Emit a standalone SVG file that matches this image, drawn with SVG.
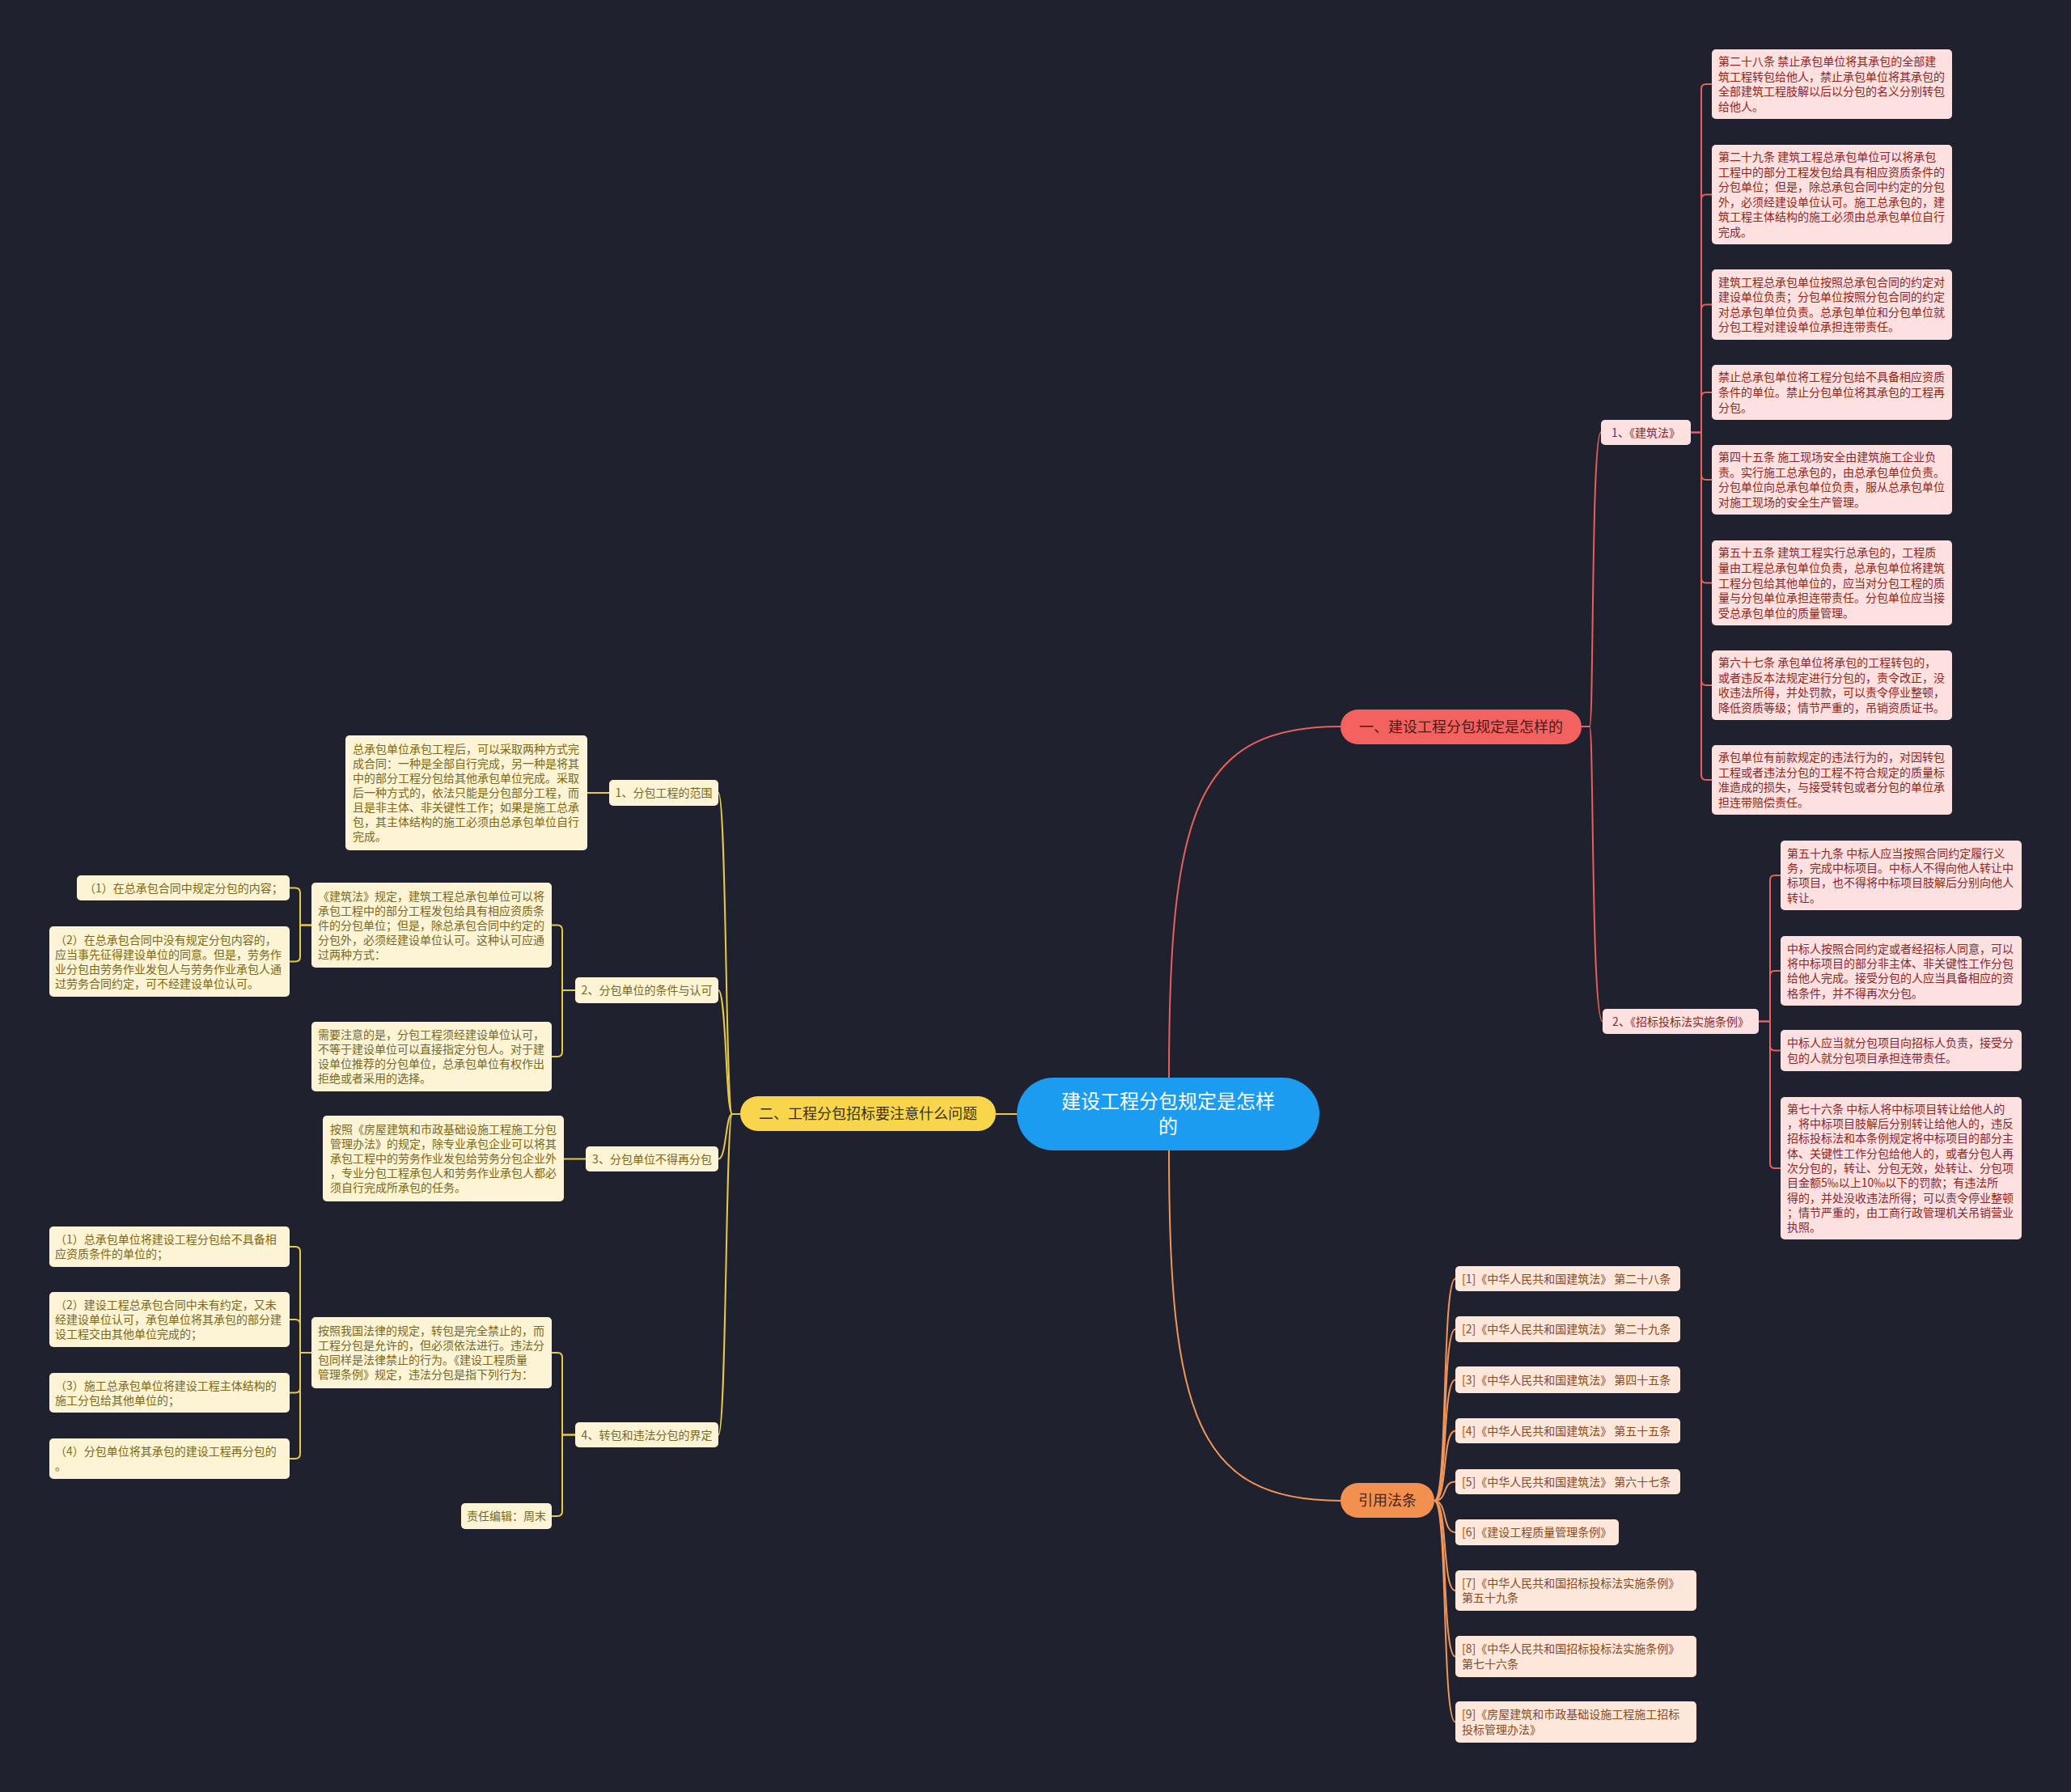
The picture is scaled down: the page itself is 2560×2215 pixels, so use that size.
<svg xmlns="http://www.w3.org/2000/svg" width="2560" height="2215" viewBox="0 0 2560 2215">
<style>
text{font-family:"Noto Sans CJK SC","Noto Sans",sans-serif}
.pk{fill:#fde1e1}
.pt{fill:#8f2626;font-size:14px}
.cr{fill:#fdf4d5}
.ct{fill:#7b6820;font-size:14px}
.pc{fill:#fde7da}
.pct{fill:#8a4a22;font-size:14px}
.br{font-size:18px;text-anchor:middle}
.mid{text-anchor:middle}
.lr{fill:none;stroke:#e8605d;stroke-width:2}
.ly{fill:none;stroke:#e6c94b;stroke-width:2}
.lo{fill:none;stroke:#f0965a;stroke-width:2}
</style>
<rect x="0" y="0" width="2560" height="2215" fill="#1f222e"/>

<g id="connectors">
<path class="lr" stroke-width="3" d="M1445 1332 C1445 1000 1480 898 1657 898"/>
<path class="lr" stroke-width="2.5" d="M1955 898 H1965 C1970 898 1967 534.5 1979 534.5"/>
<path class="lr" stroke-width="2.5" d="M1955 898 H1965 C1970 898 1967 1262.5 1981 1262.5"/>
<path class="lr" d="M2090 534.5 H2103 V110 Q2103 104 2109 104 H2116"/>
<path class="lr" d="M2103 246.5 Q2103 240.5 2109 240.5 H2116"/>
<path class="lr" d="M2103 382.5 Q2103 376.5 2109 376.5 H2116"/>
<path class="lr" d="M2103 491 Q2103 485 2109 485 H2116"/>
<path class="lr" d="M2090 534.5 H2103 V958 Q2103 964 2109 964 H2116"/>
<path class="lr" d="M2103 587 Q2103 593 2109 593 H2116"/>
<path class="lr" d="M2103 714.5 Q2103 720.5 2109 720.5 H2116"/>
<path class="lr" d="M2103 841 Q2103 847 2109 847 H2116"/>
<path class="lr" d="M2174 1262.5 H2188 V1088 Q2188 1082 2194 1082 H2201"/>
<path class="lr" d="M2188 1206 Q2188 1200 2194 1200 H2201"/>
<path class="lr" d="M2174 1262.5 H2188 V1438 Q2188 1444 2194 1444 H2201"/>
<path class="lr" d="M2188 1292.5 Q2188 1298.5 2194 1298.5 H2201"/>

<path class="ly" stroke-width="3" d="M1257 1377 H1231"/>
<path class="ly" stroke-width="2.5" d="M915 1377 H905 C897 1377 898 980 888 980"/>
<path class="ly" stroke-width="2.5" d="M915 1377 H905 C897 1377 898 1224 888 1224"/>
<path class="ly" stroke-width="2.5" d="M915 1377 H905 C897 1377 898 1432.5 888 1432.5"/>
<path class="ly" stroke-width="2.5" d="M915 1377 H905 C897 1377 898 1773.5 888 1773.5"/>
<path class="ly" d="M753 980 H726"/>
<path class="ly" d="M711 1224 H695 V1149.5 Q695 1143.5 689 1143.5 H682"/>
<path class="ly" d="M711 1224 H695 V1300 Q695 1306 689 1306 H682"/>
<path class="ly" d="M385 1143.5 H371 V1103.5 Q371 1097.5 365 1097.5 H358"/>
<path class="ly" d="M385 1143.5 H371 V1182.5 Q371 1188.5 365 1188.5 H358"/>
<path class="ly" d="M724 1432.5 H697"/>
<path class="ly" d="M711 1773.5 H695 V1678 Q695 1672 689 1672 H682"/>
<path class="ly" d="M711 1773.5 H695 V1868 Q695 1874 689 1874 H682"/>
<path class="ly" d="M385 1672 H371 V1547 Q371 1541 365 1541 H358"/>
<path class="ly" d="M371 1637 Q371 1631 365 1631 H358"/>
<path class="ly" d="M385 1672 H371 V1797 Q371 1803 365 1803 H358"/>
<path class="ly" d="M371 1715.5 Q371 1721.5 365 1721.5 H358"/>

<path class="lo" stroke-width="3" d="M1445 1422 C1445 1750 1480 1855 1657 1855"/>
<path class="lo" d="M1773 1855 C1790 1855 1782 1580.5 1799 1580.5"/>
<path class="lo" d="M1773 1855 C1790 1855 1782 1643 1799 1643"/>
<path class="lo" d="M1773 1855 C1790 1855 1782 1705.5 1799 1705.5"/>
<path class="lo" d="M1773 1855 C1790 1855 1782 1768.5 1799 1768.5"/>
<path class="lo" d="M1773 1855 C1790 1855 1782 1831.5 1799 1831.5"/>
<path class="lo" d="M1773 1855 C1790 1855 1782 1894 1799 1894"/>
<path class="lo" d="M1773 1855 C1790 1855 1782 1966 1799 1966"/>
<path class="lo" d="M1773 1855 C1790 1855 1782 2047.5 1799 2047.5"/>
<path class="lo" d="M1773 1855 C1790 1855 1782 2128.5 1799 2128.5"/>
</g>

<g id="root">
<rect x="1257" y="1332" width="374" height="90" rx="45" fill="#1b9cf0"/>
<text class="mid" x="1444" y="1370" font-size="24" fill="#ffffff">建设工程分包规定是怎样<tspan x="1444" dy="31">的</tspan></text>
</g>

<g id="branch1">
<rect x="1657" y="877" width="298" height="43" rx="21.5" fill="#f4625f"/>
<text class="br" x="1806" y="905" fill="#4a1b1b">一、建设工程分包规定是怎样的</text>
</g>
<g id="branch2">
<rect x="915" y="1355" width="316" height="43" rx="21.5" fill="#f8d54a"/>
<text class="br" x="1073" y="1383" fill="#3a3012">二、工程分包招标要注意什么问题</text>
</g>
<g id="branch3">
<rect x="1657" y="1833" width="116" height="43" rx="21.5" fill="#f2904f"/>
<text class="br" x="1715" y="1861" fill="#4a2410">引用法条</text>
</g>

<g id="r-sub1"><rect class="pk" x="1979" y="519" width="111" height="31" rx="5"/><text class="pt mid" x="2034.5" y="539.5">1、《建筑法》</text></g>
<g id="r-sub2"><rect class="pk" x="1981" y="1247" width="193" height="31" rx="5"/><text class="pt mid" x="2077.5" y="1267.5">2、《招标投标法实施条例》</text></g>

<g id="r-leaf1"><rect class="pk" x="2116" y="61" width="297" height="86" rx="5"/><text class="pt" x="2124" y="81.1">第二十八条 禁止承包单位将其承包的全部建<tspan x="2124" dy="18.6">筑工程转包给他人，禁止承包单位将其承包的</tspan><tspan x="2124" dy="18.6">全部建筑工程肢解以后以分包的名义分别转包</tspan><tspan x="2124" dy="18.6">给他人。</tspan></text></g>
<g id="r-leaf2"><rect class="pk" x="2116" y="179" width="297" height="123" rx="5"/><text class="pt" x="2124" y="199">第二十九条 建筑工程总承包单位可以将承包<tspan x="2124" dy="18.6">工程中的部分工程发包给具有相应资质条件的</tspan><tspan x="2124" dy="18.6">分包单位；但是，除总承包合同中约定的分包</tspan><tspan x="2124" dy="18.6">外，必须经建设单位认可。施工总承包的，建</tspan><tspan x="2124" dy="18.6">筑工程主体结构的施工必须由总承包单位自行</tspan><tspan x="2124" dy="18.6">完成。</tspan></text></g>
<g id="r-leaf3"><rect class="pk" x="2116" y="333" width="297" height="87" rx="5"/><text class="pt" x="2124" y="353.6">建筑工程总承包单位按照总承包合同的约定对<tspan x="2124" dy="18.6">建设单位负责；分包单位按照分包合同的约定</tspan><tspan x="2124" dy="18.6">对总承包单位负责。总承包单位和分包单位就</tspan><tspan x="2124" dy="18.6">分包工程对建设单位承担连带责任。</tspan></text></g>
<g id="r-leaf4"><rect class="pk" x="2116" y="451" width="297" height="68" rx="5"/><text class="pt" x="2124" y="471.4">禁止总承包单位将工程分包给不具备相应资质<tspan x="2124" dy="18.6">条件的单位。禁止分包单位将其承包的工程再</tspan><tspan x="2124" dy="18.6">分包。</tspan></text></g>
<g id="r-leaf5"><rect class="pk" x="2116" y="550" width="297" height="86" rx="5"/><text class="pt" x="2124" y="570.1">第四十五条 施工现场安全由建筑施工企业负<tspan x="2124" dy="18.6">责。实行施工总承包的，由总承包单位负责。</tspan><tspan x="2124" dy="18.6">分包单位向总承包单位负责，服从总承包单位</tspan><tspan x="2124" dy="18.6">对施工现场的安全生产管理。</tspan></text></g>
<g id="r-leaf6"><rect class="pk" x="2116" y="668" width="297" height="105" rx="5"/><text class="pt" x="2124" y="688.3">第五十五条 建筑工程实行总承包的，工程质<tspan x="2124" dy="18.6">量由工程总承包单位负责，总承包单位将建筑</tspan><tspan x="2124" dy="18.6">工程分包给其他单位的，应当对分包工程的质</tspan><tspan x="2124" dy="18.6">量与分包单位承担连带责任。分包单位应当接</tspan><tspan x="2124" dy="18.6">受总承包单位的质量管理。</tspan></text></g>
<g id="r-leaf7"><rect class="pk" x="2116" y="804" width="297" height="86" rx="5"/><text class="pt" x="2124" y="824.1">第六十七条 承包单位将承包的工程转包的，<tspan x="2124" dy="18.6">或者违反本法规定进行分包的，责令改正，没</tspan><tspan x="2124" dy="18.6">收违法所得，并处罚款，可以责令停业整顿，</tspan><tspan x="2124" dy="18.6">降低资质等级；情节严重的，吊销资质证书。</tspan></text></g>
<g id="r-leaf8"><rect class="pk" x="2116" y="921" width="297" height="86" rx="5"/><text class="pt" x="2124" y="941.1">承包单位有前款规定的违法行为的，对因转包<tspan x="2124" dy="18.6">工程或者违法分包的工程不符合规定的质量标</tspan><tspan x="2124" dy="18.6">准造成的损失，与接受转包或者分包的单位承</tspan><tspan x="2124" dy="18.6">担连带赔偿责任。</tspan></text></g>

<g id="r-leaf9"><rect class="pk" x="2201" y="1039" width="298" height="86" rx="5"/><text class="pt" x="2209" y="1059.6">第五十九条 中标人应当按照合同约定履行义<tspan x="2209" dy="18.3">务，完成中标项目。中标人不得向他人转让中</tspan><tspan x="2209" dy="18.3">标项目，也不得将中标项目肢解后分别向他人</tspan><tspan x="2209" dy="18.3">转让。</tspan></text></g>
<g id="r-leaf10"><rect class="pk" x="2201" y="1157" width="298" height="86" rx="5"/><text class="pt" x="2209" y="1177.6">中标人按照合同约定或者经招标人同意，可以<tspan x="2209" dy="18.3">将中标项目的部分非主体、非关键性工作分包</tspan><tspan x="2209" dy="18.3">给他人完成。接受分包的人应当具备相应的资</tspan><tspan x="2209" dy="18.3">格条件，并不得再次分包。</tspan></text></g>
<g id="r-leaf11"><rect class="pk" x="2201" y="1273" width="298" height="51" rx="5"/><text class="pt" x="2209" y="1294.4">中标人应当就分包项目向招标人负责，接受分<tspan x="2209" dy="18.3">包的人就分包项目承担连带责任。</tspan></text></g>
<g id="r-leaf12"><rect class="pk" x="2201" y="1356" width="298" height="176" rx="5"/><text class="pt" x="2209" y="1375.8">第七十六条 中标人将中标项目转让给他人的<tspan x="2209" dy="18.3">，将中标项目肢解后分别转让给他人的，违反</tspan><tspan x="2209" dy="18.3">招标投标法和本条例规定将中标项目的部分主</tspan><tspan x="2209" dy="18.3">体、关键性工作分包给他人的，或者分包人再</tspan><tspan x="2209" dy="18.3">次分包的，转让、分包无效，处转让、分包项</tspan><tspan x="2209" dy="18.3">目金额5‰以上10‰以下的罚款；有违法所</tspan><tspan x="2209" dy="18.3">得的，并处没收违法所得；可以责令停业整顿</tspan><tspan x="2209" dy="18.3">；情节严重的，由工商行政管理机关吊销营业</tspan><tspan x="2209" dy="18.3">执照。</tspan></text></g>

<g id="l-sub1"><rect class="cr" x="753" y="964" width="135" height="32" rx="5"/><text class="ct mid" x="820.5" y="985">1、分包工程的范围</text></g>
<g id="l-sub2"><rect class="cr" x="711" y="1208" width="177" height="32" rx="5"/><text class="ct mid" x="799.5" y="1229">2、分包单位的条件与认可</text></g>
<g id="l-sub3"><rect class="cr" x="724" y="1417" width="164" height="31" rx="5"/><text class="ct mid" x="806" y="1437.5">3、分包单位不得再分包</text></g>
<g id="l-sub4"><rect class="cr" x="711" y="1758" width="177" height="31" rx="5"/><text class="ct mid" x="799.5" y="1778.5">4、转包和违法分包的界定</text></g>

<g id="l-leaf1"><rect class="cr" x="427" y="909" width="299" height="142" rx="5"/><text class="ct" x="436" y="931">总承包单位承包工程后，可以采取两种方式完<tspan x="436" dy="18">成合同：一种是全部自行完成，另一种是将其</tspan><tspan x="436" dy="18">中的部分工程分包给其他承包单位完成。采取</tspan><tspan x="436" dy="18">后一种方式的，依法只能是分包部分工程，而</tspan><tspan x="436" dy="18">且是非主体、非关键性工作；如果是施工总承</tspan><tspan x="436" dy="18">包，其主体结构的施工必须由总承包单位自行</tspan><tspan x="436" dy="18">完成。</tspan></text></g>
<g id="l-leaf2"><rect class="cr" x="385" y="1091" width="297" height="105" rx="5"/><text class="ct" x="393" y="1112.5">《建筑法》规定，建筑工程总承包单位可以将<tspan x="393" dy="18">承包工程中的部分工程发包给具有相应资质条</tspan><tspan x="393" dy="18">件的分包单位；但是，除总承包合同中约定的</tspan><tspan x="393" dy="18">分包外，必须经建设单位认可。这种认可应通</tspan><tspan x="393" dy="18">过两种方式：</tspan></text></g>
<g id="l-leaf3"><rect class="cr" x="385" y="1263" width="297" height="86" rx="5"/><text class="ct" x="393" y="1284">需要注意的是，分包工程须经建设单位认可，<tspan x="393" dy="18">不等于建设单位可以直接指定分包人。对于建</tspan><tspan x="393" dy="18">设单位推荐的分包单位，总承包单位有权作出</tspan><tspan x="393" dy="18">拒绝或者采用的选择。</tspan></text></g>
<g id="l-leaf4"><rect class="cr" x="95" y="1082" width="263" height="31" rx="5"/><text class="ct" x="104" y="1102.5">（1）在总承包合同中规定分包的内容；</text></g>
<g id="l-leaf5"><rect class="cr" x="61" y="1145" width="297" height="87" rx="5"/><text class="ct" x="68" y="1166.5">（2）在总承包合同中没有规定分包内容的，<tspan x="68" dy="18">应当事先征得建设单位的同意。但是，劳务作</tspan><tspan x="68" dy="18">业分包由劳务作业发包人与劳务作业承包人通</tspan><tspan x="68" dy="18">过劳务合同约定，可不经建设单位认可。</tspan></text></g>
<g id="l-leaf6"><rect class="cr" x="399" y="1379" width="298" height="106" rx="5"/><text class="ct" x="408" y="1401">按照《房屋建筑和市政基础设施工程施工分包<tspan x="408" dy="18">管理办法》的规定，除专业承包企业可以将其</tspan><tspan x="408" dy="18">承包工程中的劳务作业发包给劳务分包企业外</tspan><tspan x="408" dy="18">，专业分包工程承包人和劳务作业承包人都必</tspan><tspan x="408" dy="18">须自行完成所承包的任务。</tspan></text></g>
<g id="l-leaf7"><rect class="cr" x="385" y="1628" width="297" height="88" rx="5"/><text class="ct" x="393" y="1650">按照我国法律的规定，转包是完全禁止的，而<tspan x="393" dy="18">工程分包是允许的，但必须依法进行。违法分</tspan><tspan x="393" dy="18">包同样是法律禁止的行为。《建设工程质量</tspan><tspan x="393" dy="18">管理条例》规定，违法分包是指下列行为：</tspan></text></g>
<g id="l-leaf8"><rect class="cr" x="61" y="1516" width="297" height="50" rx="5"/><text class="ct" x="68" y="1537">（1）总承包单位将建设工程分包给不具备相<tspan x="68" dy="18">应资质条件的单位的；</tspan></text></g>
<g id="l-leaf9"><rect class="cr" x="61" y="1597" width="297" height="68" rx="5"/><text class="ct" x="68" y="1618">（2）建设工程总承包合同中未有约定，又未<tspan x="68" dy="18">经建设单位认可，承包单位将其承包的部分建</tspan><tspan x="68" dy="18">设工程交由其他单位完成的；</tspan></text></g>
<g id="l-leaf10"><rect class="cr" x="61" y="1697" width="297" height="49" rx="5"/><text class="ct" x="68" y="1717.5">（3）施工总承包单位将建设工程主体结构的<tspan x="68" dy="18">施工分包给其他单位的；</tspan></text></g>
<g id="l-leaf11"><rect class="cr" x="61" y="1778" width="297" height="50" rx="5"/><text class="ct" x="68" y="1799">（4）分包单位将其承包的建设工程再分包的<tspan x="68" dy="18">。</tspan></text></g>
<g id="l-leaf12"><rect class="cr" x="570" y="1858" width="112" height="32" rx="5"/><text class="ct mid" x="626" y="1879">责任编辑：周末</text></g>

<g id="ref1"><rect class="pc" x="1799" y="1565" width="278" height="31" rx="5"/><text class="pct" x="1807" y="1585.5">[1]《中华人民共和国建筑法》 第二十八条</text></g>
<g id="ref2"><rect class="pc" x="1799" y="1627" width="278" height="32" rx="5"/><text class="pct" x="1807" y="1648">[2]《中华人民共和国建筑法》 第二十九条</text></g>
<g id="ref3"><rect class="pc" x="1799" y="1689" width="278" height="33" rx="5"/><text class="pct" x="1807" y="1710.5">[3]《中华人民共和国建筑法》 第四十五条</text></g>
<g id="ref4"><rect class="pc" x="1799" y="1753" width="278" height="31" rx="5"/><text class="pct" x="1807" y="1773.5">[4]《中华人民共和国建筑法》 第五十五条</text></g>
<g id="ref5"><rect class="pc" x="1799" y="1816" width="278" height="31" rx="5"/><text class="pct" x="1807" y="1836.5">[5]《中华人民共和国建筑法》 第六十七条</text></g>
<g id="ref6"><rect class="pc" x="1799" y="1878" width="202" height="32" rx="5"/><text class="pct" x="1807" y="1899">[6]《建设工程质量管理条例》</text></g>
<g id="ref7"><rect class="pc" x="1799" y="1941" width="298" height="50" rx="5"/><text class="pct" x="1807" y="1961.75">[7]《中华人民共和国招标投标法实施条例》<tspan x="1807" dy="18.5">第五十九条</tspan></text></g>
<g id="ref8"><rect class="pc" x="1799" y="2022" width="298" height="51" rx="5"/><text class="pct" x="1807" y="2043.25">[8]《中华人民共和国招标投标法实施条例》<tspan x="1807" dy="18.5">第七十六条</tspan></text></g>
<g id="ref9"><rect class="pc" x="1799" y="2103" width="298" height="51" rx="5"/><text class="pct" x="1807" y="2124.25">[9]《房屋建筑和市政基础设施工程施工招标<tspan x="1807" dy="18.5">投标管理办法》</tspan></text></g>
</svg>
